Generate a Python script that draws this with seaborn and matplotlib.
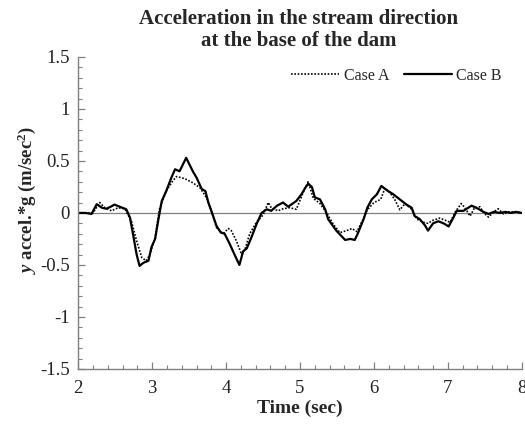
import numpy as np
import pandas as pd
import matplotlib
matplotlib.use("Agg")
import matplotlib.pyplot as plt
from matplotlib.ticker import MultipleLocator, FormatStrFormatter
import seaborn as sns

# Time histories of the stream-direction acceleration (base of the dam)
time_a = [2.0, 2.1, 2.2, 2.29, 2.36, 2.45, 2.54, 2.63, 2.72, 2.79, 2.86, 2.92, 2.97,
          3.04, 3.10, 3.19, 3.28, 3.33, 3.44, 3.55, 3.65, 3.74, 3.81, 3.87, 3.96,
          4.03, 4.07, 4.14, 4.21, 4.26, 4.32, 4.41, 4.50, 4.57, 4.61, 4.70, 4.77,
          4.86, 4.95, 5.05, 5.11, 5.18, 5.27, 5.36, 5.45, 5.54, 5.63, 5.70, 5.77,
          5.86, 5.91, 6.0, 6.09, 6.15, 6.22, 6.28, 6.35, 6.42, 6.51, 6.58, 6.67,
          6.73, 6.80, 6.89, 6.96, 7.03, 7.10, 7.18, 7.23, 7.30, 7.36, 7.43, 7.50,
          7.55, 7.62, 7.68, 7.75, 7.82, 7.91, 8.0]
accel_a = [0.0, 0.0, 0.0, 0.10, 0.05, 0.02, 0.05, 0.04, -0.08, -0.27, -0.43, -0.46, -0.40,
           -0.24, 0.04, 0.21, 0.31, 0.35, 0.33, 0.29, 0.24, 0.14, 0.0, -0.14, -0.20,
           -0.15, -0.17, -0.27, -0.40, -0.34, -0.20, -0.09, -0.02, 0.10, 0.05, 0.02, 0.04,
           0.05, 0.035, 0.21, 0.30, 0.14, 0.09, 0.0, -0.11, -0.19, -0.17, -0.15, -0.18,
           -0.05, 0.03, 0.10, 0.13, 0.24, 0.19, 0.13, 0.03, 0.09, 0.035, -0.06, -0.09,
           -0.10, -0.07, -0.05, -0.07, -0.09, 0.01, 0.09, 0.05, -0.03, 0.05, 0.06, -0.01,
           -0.04, 0.01, 0.04, -0.01, 0.01, 0.01, 0.0]

time_b = [2.0, 2.1, 2.18, 2.25, 2.32, 2.38, 2.44, 2.49, 2.56, 2.65, 2.70, 2.74, 2.79,
          2.83, 2.88, 2.95, 2.99, 3.04, 3.08, 3.13, 3.19, 3.26, 3.31, 3.37, 3.46,
          3.55, 3.60, 3.67, 3.72, 3.76, 3.81, 3.87, 3.93, 3.98, 4.05, 4.12, 4.18,
          4.23, 4.28, 4.34, 4.41, 4.48, 4.55, 4.61, 4.69, 4.77, 4.84, 4.95, 5.02,
          5.07, 5.11, 5.16, 5.20, 5.27, 5.34, 5.38, 5.49, 5.61, 5.68, 5.74, 5.78,
          5.86, 5.91, 5.97, 6.04, 6.10, 6.17, 6.26, 6.35, 6.44, 6.51, 6.55, 6.62,
          6.69, 6.73, 6.80, 6.87, 6.94, 7.01, 7.07, 7.12, 7.21, 7.32, 7.41, 7.48,
          7.55, 7.62, 7.70, 7.78, 7.85, 7.92, 8.0]
accel_b = [0.0, 0.0, -0.01, 0.084, 0.05, 0.04, 0.06, 0.08, 0.06, 0.035, -0.045, -0.2, -0.4,
           -0.51, -0.48, -0.46, -0.33, -0.25, -0.08, 0.115, 0.21, 0.34, 0.42, 0.40, 0.53,
           0.40, 0.34, 0.23, 0.21, 0.10, 0.0, -0.125, -0.19, -0.2, -0.3, -0.41, -0.5,
           -0.37, -0.34, -0.24, -0.11, 0.0, 0.035, 0.02, 0.07, 0.10, 0.06, 0.115, 0.18,
           0.24, 0.28, 0.25, 0.15, 0.13, 0.035, -0.06, -0.17, -0.26, -0.25, -0.26, -0.2,
           -0.06, 0.05, 0.13, 0.18, 0.26, 0.22, 0.18, 0.13, 0.08, 0.05, -0.03, -0.06,
           -0.12, -0.17, -0.10, -0.08, -0.10, -0.13, -0.05, 0.02, 0.02, 0.07, 0.04, 0.01,
           -0.01, 0.01, 0.0, 0.01, 0.0, 0.01, 0.0]

case_labels = ["Case A", "Case B"]

df = pd.concat([
    pd.DataFrame({"t": time_a, "acc": accel_a, "case": case_labels[0]}),
    pd.DataFrame({"t": time_b, "acc": accel_b, "case": case_labels[1]}),
], ignore_index=True)

sns.set_theme(style="white")
plt.rcParams["font.family"] = ["Liberation Serif", "DejaVu Serif"]
plt.rcParams["mathtext.fontset"] = "custom"
plt.rcParams["mathtext.rm"] = "Liberation Serif"
plt.rcParams["mathtext.it"] = "Liberation Serif:italic"
plt.rcParams["mathtext.bf"] = "Liberation Serif:bold"
plt.rcParams["mathtext.bfit"] = "Liberation Serif:italic:bold"
plt.rcParams["axes.unicode_minus"] = False

fig = plt.figure(figsize=(5.25, 4.25), dpi=100)
ax = fig.add_axes([0.149, 0.132, 0.845, 0.734])

grey = "#808080"
ax.axhline(0, color=grey, lw=0.9, zorder=1)

sns.lineplot(data=df[df["case"] == "Case A"], x="t", y="acc", ax=ax,
             color="black", lw=1.2, linestyle=(0, (1, 1)), label="Case A",
             estimator=None)
sns.lineplot(data=df[df["case"] == "Case B"], x="t", y="acc", ax=ax,
             color="black", lw=1.6, linestyle="-", label="Case B",
             estimator=None)

ax.set_xlim(2, 8)
ax.set_ylim(-1.5, 1.5)
ax.xaxis.set_major_locator(MultipleLocator(1))
ax.xaxis.set_minor_locator(MultipleLocator(0.2))
ax.yaxis.set_major_locator(MultipleLocator(0.5))
ax.yaxis.set_minor_locator(MultipleLocator(0.1))
ax.yaxis.set_major_formatter(FormatStrFormatter("%g"))

for side in ["top", "right"]:
    ax.spines[side].set_visible(False)
for side in ["left", "bottom"]:
    ax.spines[side].set_color(grey)
    ax.spines[side].set_linewidth(1.0)

ax.tick_params(axis="both", which="both", bottom=True, left=True,
               top=False, right=False)
ax.tick_params(axis="both", which="major", direction="in", length=5, width=0.9,
               color=grey, labelsize=13.5, labelcolor="#222222")
ax.tick_params(axis="both", which="minor", direction="in", length=3, width=0.8,
               color=grey)
ax.tick_params(axis="x", which="major", pad=8)
ax.tick_params(axis="y", which="major", pad=6)

ax.set_xlabel("Time (sec)", fontsize=14, fontweight="bold", labelpad=2)
ax.set_ylabel(r"$\mathbfit{y}$ accel.*g (m/sec$^{\mathbf{2}}$)", fontsize=13.5,
              fontweight="bold")
ax.yaxis.set_label_coords(-0.09, 0.542)

fig.text(0.569, 0.978, "Acceleration in the stream direction\nat the base of the dam",
         ha="center", va="top", fontsize=15, fontweight="bold",
         linespacing=1.1)

leg = ax.legend(loc="center right", ncol=2, frameon=False, fontsize=11.5,
                handlelength=3.0, columnspacing=0.9, handletextpad=0.3,
                bbox_to_anchor=(0.955, 0.939), borderaxespad=0, borderpad=0)

fig.savefig("out.png", dpi=100)
